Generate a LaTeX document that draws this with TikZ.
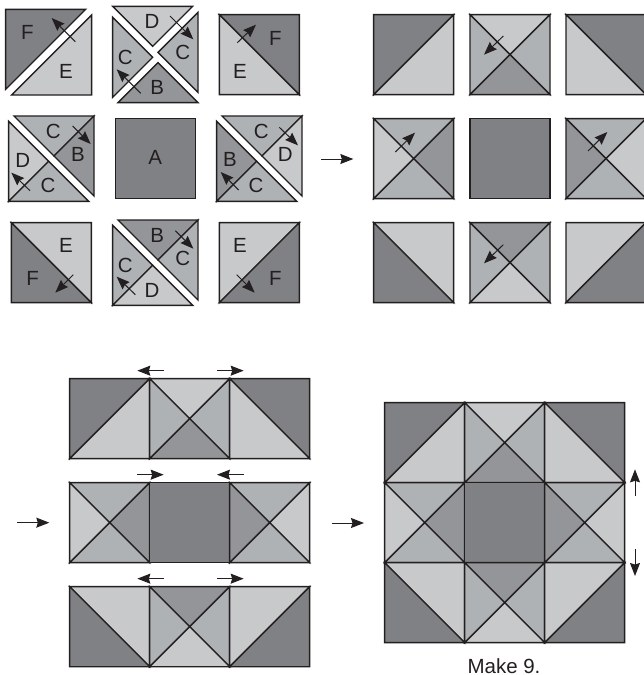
\documentclass[tikz,border=0pt]{standalone}
\usepackage{fontspec}
\setmainfont{Liberation Sans}
\usetikzlibrary{arrows.meta}
\definecolor{cA}{HTML}{808184}
\definecolor{cB}{HTML}{939598}
\definecolor{cC}{HTML}{AEB2B5}
\definecolor{cD}{HTML}{C8C9CB}
\definecolor{ink}{HTML}{231F20}
\tikzset{
  patch/.style={draw=ink,line width=1.35pt,line join=miter},
  pressarrow/.style={draw=ink,line width=1pt,-{Stealth[length=13pt,width=10pt,inset=1.5pt]}},
  letter/.style={font=\fontsize{20.5}{22}\selectfont,text=ink,inner sep=0pt,anchor=center}
}
% triangle
\newcommand{\tri}[4]{\filldraw[patch,fill=#1] #2 -- #3 -- #4 -- cycle;}
% quarter-square tile: x,y,top,left,right,bottom
\newcommand{\Tq}[6]{%
  \tri{#3}{(#1,#2)}{({#1+240},#2)}{({#1+120},{#2+120})}
  \tri{#4}{(#1,#2)}{(#1,{#2+240})}{({#1+120},{#2+120})}
  \tri{#5}{({#1+240},#2)}{({#1+240},{#2+240})}{({#1+120},{#2+120})}
  \tri{#6}{(#1,{#2+240})}{({#1+240},{#2+240})}{({#1+120},{#2+120})}}
% half-square, diagonal bottom-left to top-right: x,y,upper-left,lower-right
\newcommand{\Ts}[4]{%
  \tri{#3}{(#1,#2)}{({#1+240},#2)}{(#1,{#2+240})}
  \tri{#4}{({#1+240},#2)}{({#1+240},{#2+240})}{(#1,{#2+240})}}
% half-square, diagonal top-left to bottom-right: x,y,upper-right,lower-left
\newcommand{\Tb}[4]{%
  \tri{#3}{(#1,#2)}{({#1+240},#2)}{({#1+240},{#2+240})}
  \tri{#4}{(#1,#2)}{(#1,{#2+240})}{({#1+240},{#2+240})}}
\newcommand{\Tf}[3]{\filldraw[patch,fill=#3] (#1,#2) rectangle ({#1+240},{#2+240});}
\newcommand{\arr}[2]{\draw[pressarrow] #1 -- #2;}
\begin{document}
\begin{tikzpicture}[x=0.33333pt,y=-0.33333pt]
\useasboundingbox (0,0) rectangle (1932,2025);
% ---------- separated patches
\tri{cA}{(17,28)}{(257,28)}{(17,268)}
\tri{cD}{(275,45)}{(275,285)}{(35,285)}
\tri{cD}{(338,19)}{(578,19)}{(458,139)}
\tri{cC}{(594,37)}{(594,277)}{(474,157)}
\tri{cC}{(338,52)}{(338,292)}{(458,172)}
\tri{cB}{(354,308)}{(594,308)}{(474,188)}
\Tb{658}{44}{cA}{cD}
\tri{cC}{(42,348)}{(282,348)}{(162,468)}
\tri{cB}{(282,348)}{(282,588)}{(162,468)}
\tri{cD}{(26,364)}{(26,604)}{(146,484)}
\tri{cC}{(26,604)}{(266,604)}{(146,484)}
\Tf{346}{356}{cA}
\tri{cC}{(666,348)}{(906,348)}{(786,468)}
\tri{cD}{(906,348)}{(906,588)}{(786,468)}
\tri{cB}{(650,364)}{(650,604)}{(770,484)}
\tri{cC}{(650,604)}{(890,604)}{(770,484)}
\Tb{34}{668}{cD}{cA}
\tri{cB}{(354,660)}{(594,660)}{(474,780)}
\tri{cC}{(594,660)}{(594,900)}{(474,780)}
\tri{cC}{(338,676)}{(338,916)}{(458,796)}
\tri{cD}{(338,916)}{(578,916)}{(458,796)}
\Ts{658}{668}{cD}{cA}
% letters
\node[letter] (l1) at (82,98) {F};
\node[letter] (l2) at (198,214) {E};
\node[letter] (l3) at (456,65) {D};
\node[letter] (l4) at (548,156) {C};
\node[letter] (l5) at (376,172) {C};
\node[letter] (l6) at (472,262) {B};
\node[letter] (l7) at (826,116) {F};
\node[letter] (l8) at (720,214) {E};
\node[letter] (l9) at (160,395) {C};
\node[letter] (l10) at (234,464) {B};
\node[letter] (l11) at (68,480) {D};
\node[letter] (l12) at (144,556) {C};
\node[letter] (l13) at (466,472) {A};
\node[letter] (l14) at (784,395) {C};
\node[letter] (l15) at (856,464) {D};
\node[letter] (l16) at (690,478) {B};
\node[letter] (l17) at (768,556) {C};
\node[letter] (l18) at (198,736) {E};
\node[letter] (l19) at (98,836) {F};
\node[letter] (l20) at (472,706) {B};
\node[letter] (l21) at (548,776) {C};
\node[letter] (l22) at (376,796) {C};
\node[letter] (l23) at (456,870) {D};
\node[letter] (l24) at (720,736) {E};
\node[letter] (l25) at (826,836) {F};
% press arrows
\arr{(226,125)}{(155,54)}
\arr{(510,48)}{(580,118)}
\arr{(422,280)}{(350,208)}
\arr{(712,128)}{(768,74)}
\arr{(218,378)}{(272,432)}
\arr{(90,572)}{(34,518)}
\arr{(838,382)}{(894,436)}
\arr{(716,570)}{(662,516)}
\arr{(220,824)}{(166,878)}
\arr{(526,692)}{(580,746)}
\arr{(406,884)}{(350,830)}
\arr{(710,824)}{(764,878)}
% ---------- sewn patches
\begin{scope}[shift={(960,0)}]
\Ts{161}{44}{cA}{cD}
\Tq{450}{44}{cD}{cC}{cC}{cB}
\Tq{450}{668}{cB}{cC}{cC}{cD}
\Tq{161}{356}{cC}{cD}{cB}{cC}
\Tf{450}{356}{cA}
\Tb{161}{668}{cD}{cA}
\begin{scope}
\clip (700,0) rectangle (972,1000);
\Tb{738}{44}{cA}{cD}
\Tq{738}{356}{cC}{cB}{cD}{cC}
\Ts{738}{668}{cD}{cA}
\end{scope}
\arr{(3,477)}{(100,477)}
\arr{(550,108)}{(492,164)}
\arr{(226,456)}{(285,398)}
\arr{(804,453)}{(862,396)}
\arr{(550,734)}{(492,790)}
\end{scope}
% ---------- rows
\begin{scope}[shift={(0,1050)}]
\Ts{209}{86}{cA}{cD}
\Tq{449}{86}{cD}{cC}{cC}{cB}
\Tb{689}{86}{cA}{cD}
\Tq{209}{398}{cC}{cD}{cB}{cC}
\Tf{449}{398}{cA}
\Tq{689}{398}{cC}{cB}{cD}{cC}
\Tb{209}{710}{cD}{cA}
\Tq{449}{710}{cB}{cC}{cC}{cD}
\Ts{689}{710}{cD}{cA}
\arr{(492,62)}{(412,62)}
\arr{(651,62)}{(731,62)}
\arr{(411,374)}{(491,374)}
\arr{(731,374)}{(651,374)}
\arr{(492,686)}{(412,686)}
\arr{(651,686)}{(731,686)}
\arr{(51,518)}{(148,518)}
\end{scope}
% ---------- finished block
\begin{scope}[shift={(990,1140)}]
\Ts{164}{68}{cA}{cD}
\Tq{404}{68}{cD}{cC}{cC}{cB}
\Tb{644}{68}{cA}{cD}
\Tq{164}{308}{cC}{cD}{cB}{cC}
\Tf{404}{308}{cA}
\Tq{644}{308}{cC}{cB}{cD}{cC}
\Tb{164}{548}{cD}{cA}
\Tq{404}{548}{cB}{cC}{cC}{cD}
\Ts{644}{548}{cD}{cA}
\arr{(6,429)}{(102,429)}
\arr{(915,348)}{(915,268)}
\arr{(915,508)}{(915,588)}
\node[letter] (make) at (522,858) {Make 9.};
\end{scope}
\end{tikzpicture}
\end{document}
